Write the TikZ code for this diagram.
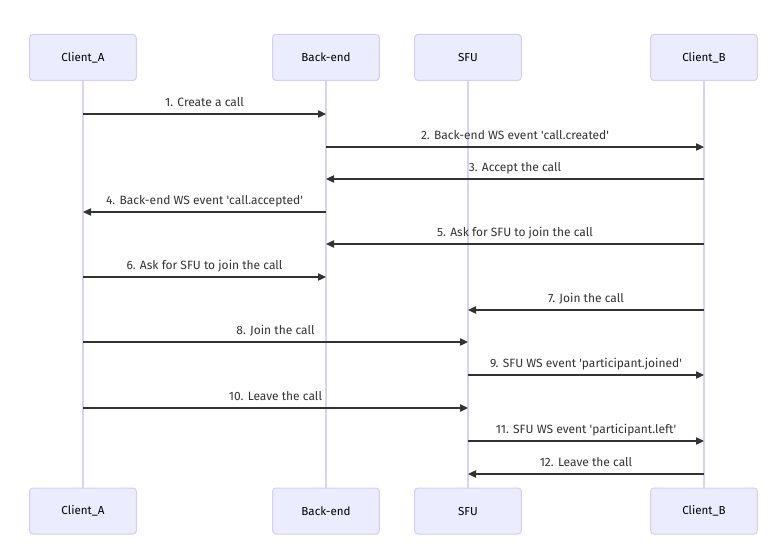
\documentclass[tikz,border=0pt]{standalone}
\usepackage{fontspec}
\setmainfont{Fira Sans}
\usetikzlibrary{arrows.meta}
\definecolor{actorfill}{HTML}{ECECFF}
\definecolor{actorline}{HTML}{D8CCF2}
\definecolor{lifeline}{HTML}{DCD0F4}
\definecolor{msgcol}{HTML}{333333}
\newcommand{\sq}{\textquotesingle}
\tikzset{
  actor/.style={draw=actorline, fill=actorfill, rounded corners=2.5pt, line width=0.75pt,
    minimum width=80pt, minimum height=34.5pt, inner sep=0pt,
    font=\fontsize{8.7pt}{10pt}\selectfont, text=black},
  life/.style={draw=lifeline, line width=1pt},
  msg/.style={draw=msgcol, line width=0.9pt, -{Triangle[length=6pt,width=5.5pt]}},
  lbl/.style={font=\fontsize{9pt}{10pt}\selectfont, text=msgcol, inner sep=0pt,
    anchor=base, yshift=5.3pt},
}
\begin{document}
\begin{tikzpicture}[x=0.75pt,y=-0.75pt]
\useasboundingbox (0,0) rectangle (782,560);
\fill[white] (0,0) rectangle (782,560);
% lane x positions
\def\xa{83}\def\xb{326}\def\xs{468}\def\xc{704}
% lifelines
\coordinate (la1) at (\xa,80); \coordinate (la2) at (\xa,488);
\coordinate (lb1) at (\xb,80); \coordinate (lb2) at (\xb,488);
\coordinate (ls1) at (\xs,80); \coordinate (ls2) at (\xs,488);
\coordinate (lc1) at (\xc,80); \coordinate (lc2) at (\xc,488);
\draw[life] (la1) -- (la2);
\draw[life] (lb1) -- (lb2);
\draw[life] (ls1) -- (ls2);
\draw[life] (lc1) -- (lc2);
% participant boxes
\node[actor] (A)  at (\xa,57.5) {Client\_A};
\node[actor] (B)  at (\xb,57.5) {Back-end};
\node[actor] (S)  at (\xs,57.5) {SFU};
\node[actor] (C)  at (\xc,57.5) {Client\_B};
\node[actor] (A2) at (\xa,511) {Client\_A};
\node[actor] (B2) at (\xb,511) {Back-end};
\node[actor] (S2) at (\xs,511) {SFU};
\node[actor] (C2) at (\xc,511) {Client\_B};
% message endpoints
\foreach \n/\y in {1/114,2/147,3/179,4/212,5/244,6/277,7/310,8/342,9/375,10/408,11/441,12/474}{
  \coordinate (a\n) at (\xa,\y);
  \coordinate (b\n) at (\xb,\y);
  \coordinate (s\n) at (\xs,\y);
  \coordinate (c\n) at (\xc,\y);
}
% messages
\draw[msg] (a1) -- node[lbl] {1. Create a call} (b1);
\draw[msg] (b2) -- node[lbl] {2. Back-end WS event \sq call.created\sq} (c2);
\draw[msg] (c3) -- node[lbl] {3. Accept the call} (b3);
\draw[msg] (b4) -- node[lbl] {4. Back-end WS event \sq call.accepted\sq} (a4);
\draw[msg] (c5) -- node[lbl] {5. Ask for SFU to join the call} (b5);
\draw[msg] (a6) -- node[lbl] {6. Ask for SFU to join the call} (b6);
\draw[msg] (c7) -- node[lbl] {7. Join the call} (s7);
\draw[msg] (a8) -- node[lbl] {8. Join the call} (s8);
\draw[msg] (s9) -- node[lbl] {9. SFU WS event \sq participant.joined\sq} (c9);
\draw[msg] (a10) -- node[lbl] {10. Leave the call} (s10);
\draw[msg] (s11) -- node[lbl] {11. SFU WS event \sq participant.left\sq} (c11);
\draw[msg] (c12) -- node[lbl] {12. Leave the call} (s12);
\end{tikzpicture}
\end{document}
